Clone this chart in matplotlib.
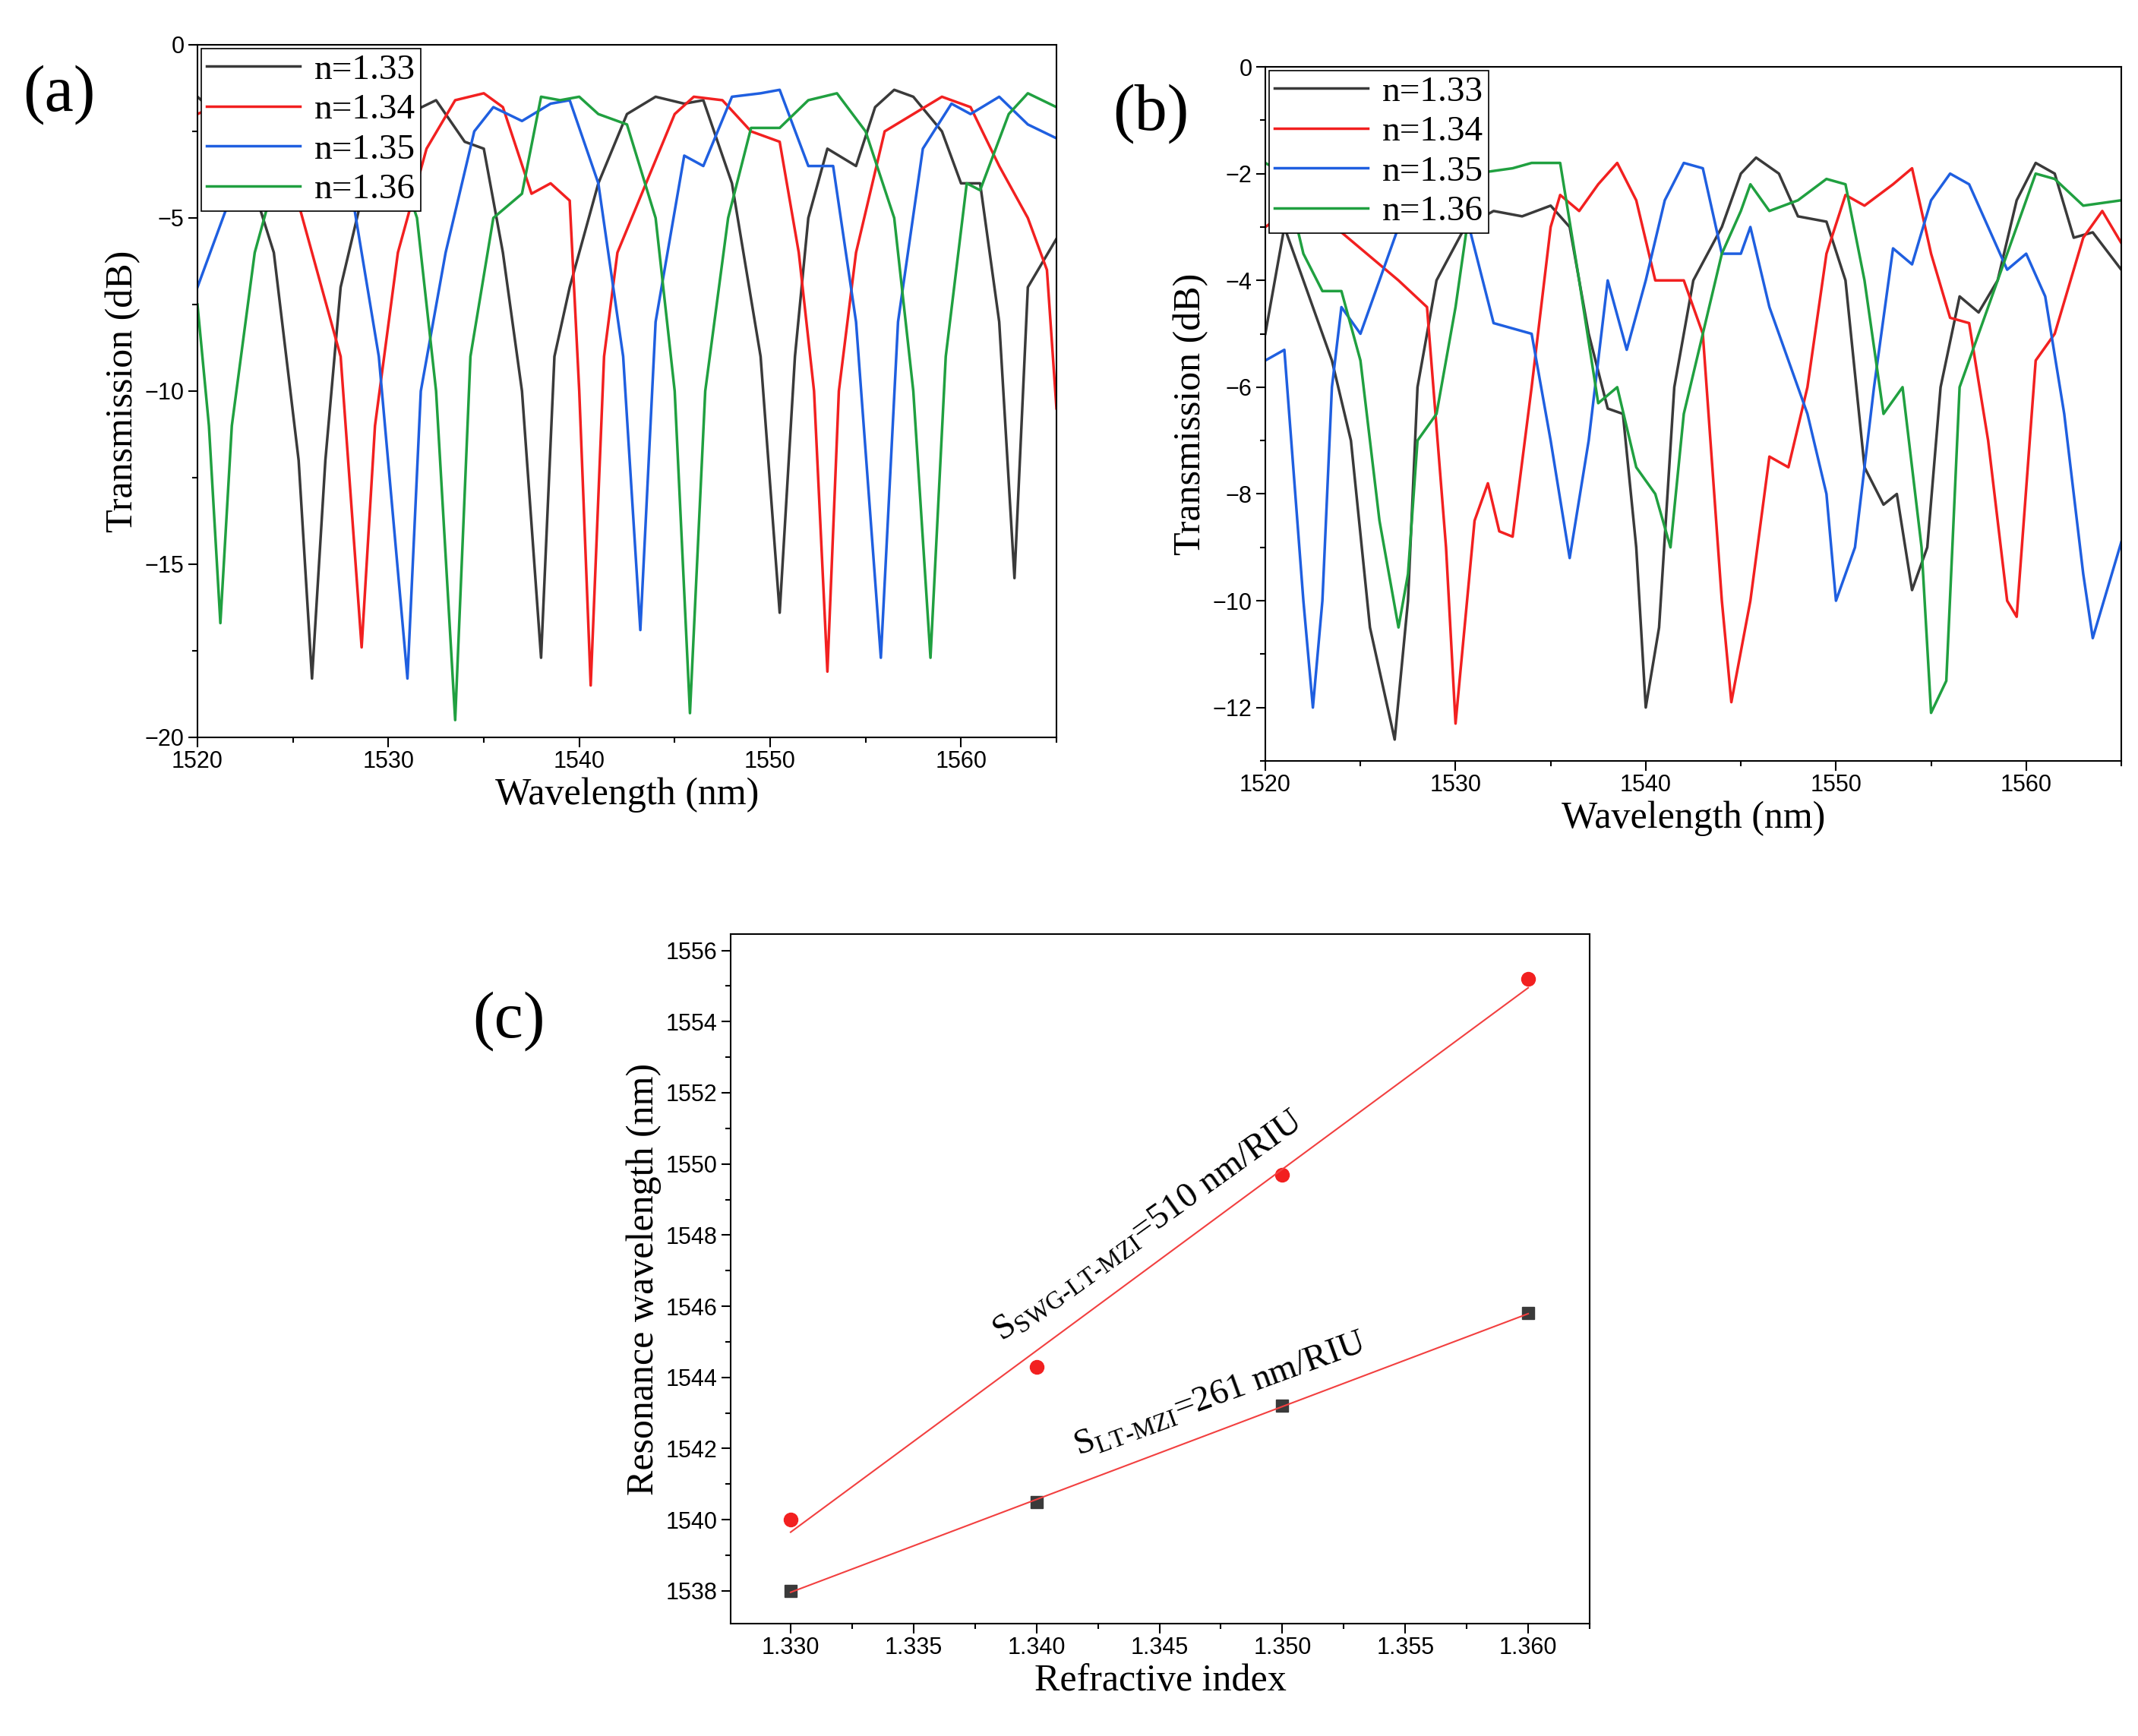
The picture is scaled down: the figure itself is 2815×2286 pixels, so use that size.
import numpy as np
import matplotlib.pyplot as plt
from matplotlib.ticker import MultipleLocator

plt.rcParams['font.family'] = 'Liberation Serif'
plt.rcParams['mathtext.fontset'] = 'custom'
plt.rcParams['mathtext.rm'] = 'Liberation Serif'

labels = ['n=1.33', 'n=1.34', 'n=1.35', 'n=1.36']
colors = ['#3a3a3a', '#f22020', '#1f5fe0', '#20a040']

# panel (a) spectra: (wavelength nm, transmission dB)
a_133 = [(1520,-1.5),(1522,-2.5),(1524,-6),(1525.3,-12),(1526,-18.3),(1526.7,-12),(1527.5,-7),(1529,-3.5),(1531,-2),(1532.5,-1.6),(1534,-2.8),(1535,-3),(1536,-6),(1537,-10),(1538,-17.7),(1538.7,-9),(1539.5,-7),(1541,-4),(1542.5,-2),(1544,-1.5),(1545.5,-1.7),(1546.5,-1.6),(1548,-4),(1549.5,-9),(1550.5,-16.4),(1551.3,-9),(1552,-5),(1553,-3),(1554.5,-3.5),(1555.5,-1.8),(1556.5,-1.3),(1557.5,-1.5),(1559,-2.5),(1560,-4),(1561,-4),(1562,-8),(1562.8,-15.4),(1563.5,-7),(1565,-5.6)]
a_134 = [(1520,-2),(1522,-1.5),(1524,-2),(1526,-6),(1527.5,-9),(1528.6,-17.4),(1529.3,-11),(1530.5,-6),(1532,-3),(1533.5,-1.6),(1535,-1.4),(1536,-1.8),(1537.5,-4.3),(1538.5,-4),(1539.5,-4.5),(1540,-10),(1540.6,-18.5),(1541.3,-9),(1542,-6),(1543.5,-4),(1545,-2),(1546,-1.5),(1547.5,-1.6),(1549,-2.5),(1550.5,-2.8),(1551.5,-6),(1552.3,-10),(1553,-18.1),(1553.6,-10),(1554.5,-6),(1556,-2.5),(1557.5,-2),(1559,-1.5),(1560.5,-1.8),(1562,-3.5),(1563.5,-5),(1564.5,-6.5),(1565,-10.5)]
a_135 = [(1520,-7),(1522,-4),(1526,-2),(1528,-4),(1529.5,-9),(1531,-18.3),(1531.7,-10),(1533,-6),(1534.5,-2.5),(1535.5,-1.8),(1537,-2.2),(1538.5,-1.7),(1539.5,-1.6),(1541,-4),(1542.3,-9),(1543.2,-16.9),(1544,-8),(1545.5,-3.2),(1546.5,-3.5),(1548,-1.5),(1549.5,-1.4),(1550.5,-1.3),(1552,-3.5),(1553.3,-3.5),(1554.5,-8),(1555.8,-17.7),(1556.7,-8),(1558,-3),(1559.5,-1.7),(1560.5,-2),(1562,-1.5),(1563.5,-2.3),(1565,-2.7)]
a_136 = [(1520,-7.5),(1520.6,-11),(1521.2,-16.7),(1521.8,-11),(1523,-6),(1524.5,-3),(1526,-2),(1527.5,-1.8),(1530,-2.5),(1531.5,-5),(1532.5,-10),(1533.5,-19.5),(1534.3,-9),(1535.5,-5),(1537,-4.3),(1538,-1.5),(1539,-1.6),(1540,-1.5),(1541,-2),(1542.5,-2.3),(1544,-5),(1545,-10),(1545.8,-19.3),(1546.6,-10),(1547.8,-5),(1549,-2.4),(1550.5,-2.4),(1552,-1.6),(1553.5,-1.4),(1555,-2.5),(1556.5,-5),(1557.5,-10),(1558.4,-17.7),(1559.2,-9),(1560.3,-4),(1561,-4.2),(1562.5,-2),(1563.5,-1.4),(1565,-1.8)]

# panel (b) spectra
b_133 = [(1520,-5),(1521,-3),(1522.5,-4.5),(1523.5,-5.5),(1524.5,-7),(1525.5,-10.5),(1526.8,-12.6),(1527.5,-10),(1528,-6),(1529,-4),(1530.5,-3),(1532,-2.7),(1533.5,-2.8),(1535,-2.6),(1536,-3),(1537,-5),(1538,-6.4),(1538.8,-6.5),(1539.5,-9),(1540,-12),(1540.7,-10.5),(1541.5,-6),(1542.5,-4),(1544,-3),(1545,-2),(1545.8,-1.7),(1547,-2),(1548,-2.8),(1549.5,-2.9),(1550.5,-4),(1551.5,-7.5),(1552.5,-8.2),(1553.2,-8),(1554,-9.8),(1554.8,-9),(1555.5,-6),(1556.5,-4.3),(1557.5,-4.6),(1558.5,-4),(1559.5,-2.5),(1560.5,-1.8),(1561.5,-2),(1562.5,-3.2),(1563.5,-3.1),(1565,-3.8)]
b_134 = [(1520,-3),(1522,-2.5),(1527,-4),(1528.5,-4.5),(1529.5,-9),(1530,-12.3),(1531,-8.5),(1531.7,-7.8),(1532.3,-8.7),(1533,-8.8),(1534,-6),(1535,-3),(1535.5,-2.4),(1536.5,-2.7),(1537.5,-2.2),(1538.5,-1.8),(1539.5,-2.5),(1540.5,-4),(1542,-4),(1543,-5),(1544,-10),(1544.5,-11.9),(1545.5,-10),(1546.5,-7.3),(1547.5,-7.5),(1548.5,-6),(1549.5,-3.5),(1550.5,-2.4),(1551.5,-2.6),(1553,-2.2),(1554,-1.9),(1555,-3.5),(1556,-4.7),(1557,-4.8),(1558,-7),(1559,-10),(1559.5,-10.3),(1560.5,-5.5),(1561.5,-5),(1563,-3.2),(1564,-2.7),(1565,-3.3)]
b_135 = [(1520,-5.5),(1521,-5.3),(1522,-10),(1522.5,-12),(1523,-10),(1523.5,-6),(1524,-4.5),(1525,-5),(1526,-4),(1527,-3),(1528,-2.5),(1530,-2),(1532,-4.8),(1534,-5),(1535,-7),(1536,-9.2),(1537,-7),(1538,-4),(1539,-5.3),(1540,-4),(1541,-2.5),(1542,-1.8),(1543,-1.9),(1544,-3.5),(1545,-3.5),(1545.5,-3),(1546.5,-4.5),(1547.5,-5.5),(1548.5,-6.5),(1549.5,-8),(1550,-10),(1551,-9),(1552,-6),(1553,-3.4),(1554,-3.7),(1555,-2.5),(1556,-2),(1557,-2.2),(1558,-3),(1559,-3.8),(1560,-3.5),(1561,-4.3),(1562,-6.5),(1563,-9.5),(1563.5,-10.7),(1564.5,-9.5),(1565,-8.9)]
b_136 = [(1520,-1.8),(1521,-2),(1522,-3.5),(1523,-4.2),(1524,-4.2),(1525,-5.5),(1526,-8.5),(1527,-10.5),(1527.5,-9.5),(1528,-7),(1529,-6.5),(1530,-4.5),(1531,-2),(1533,-1.9),(1534,-1.8),(1535.5,-1.8),(1536.5,-4),(1537.5,-6.3),(1538.5,-6),(1539.5,-7.5),(1540.5,-8),(1541.3,-9),(1542,-6.5),(1543,-5),(1544,-3.5),(1545,-2.7),(1545.5,-2.2),(1546.5,-2.7),(1548,-2.5),(1549.5,-2.1),(1550.5,-2.2),(1551.5,-4),(1552.5,-6.5),(1553.5,-6),(1554.5,-9),(1555,-12.1),(1555.8,-11.5),(1556.5,-6),(1557.5,-5),(1559,-3.5),(1560.5,-2),(1561.5,-2.1),(1563,-2.6),(1565,-2.5)]

# panel (c)
n_idx = [1.33, 1.34, 1.35, 1.36]
res_swg = [1540.0, 1544.3, 1549.7, 1555.2]
res_lt = [1538.0, 1540.5, 1543.2, 1545.8]

W, H = 2815, 2286
fig = plt.figure(figsize=(W/100, H/100), dpi=100)

def box(l, t, r, b):
    return [l/W, 1-b/H, (r-l)/W, (b-t)/H]

def style(ax):
    ax.tick_params(which='both', direction='out', labelsize=22, width=1.5)
    ax.tick_params(which='major', length=9)
    ax.tick_params(which='minor', length=5)
    for s in ax.spines.values():
        s.set_linewidth(1.5)
    for lab in ax.get_xticklabels() + ax.get_yticklabels():
        lab.set_fontfamily('Liberation Sans')

def spectra(ax, curves, ylim, ymaj):
    for c, col, lab in zip(curves, colors, labels):
        arr = np.array(c)
        ax.plot(arr[:, 0], arr[:, 1], color=col, lw=2.5, label=lab)
    ax.set_xlim(1520, 1565)
    ax.set_ylim(*ylim)
    ax.xaxis.set_major_locator(MultipleLocator(10))
    ax.xaxis.set_minor_locator(MultipleLocator(5))
    ax.yaxis.set_major_locator(MultipleLocator(ymaj))
    ax.yaxis.set_minor_locator(MultipleLocator(ymaj/2))
    ax.set_xlabel('Wavelength (nm)', fontsize=36)
    ax.set_ylabel('Transmission (dB)', fontsize=36)
    leg = ax.legend(loc='upper left', fontsize=34, frameon=True, fancybox=False,
                    edgecolor='black', framealpha=1, handlelength=2.6, borderaxespad=0.1,
                    labelspacing=0.2, borderpad=0.15, handletextpad=0.4)
    leg.get_frame().set_linewidth(1.2)
    style(ax)

ax1 = fig.add_axes(box(260, 59, 1391, 971))
spectra(ax1, [a_133, a_134, a_135, a_136], (-20, 0), 5)
fig.text(30/W, 1-145/H, '(a)', fontsize=62)

ax2 = fig.add_axes(box(1666, 88, 2793, 1002))
spectra(ax2, [b_133, b_134, b_135, b_136], (-13, 0), 2)
fig.text(1465/W, 1-170/H, '(b)', fontsize=62)

ax3 = fig.add_axes(box(962, 1230, 2093, 2138))
ax3.plot(n_idx, res_lt, 's', color='#3a3a3a', ms=12)
ax3.plot(n_idx, res_swg, 'o', color='#f22020', ms=13)
for ys in (res_swg, res_lt):
    p = np.polyfit(n_idx, ys, 1)
    ax3.plot(n_idx, np.polyval(p, n_idx), color='#f24040', lw=1.5)
ax3.set_xlim(1.32756, 1.3625)
ax3.set_ylim(1537.08, 1556.46)
ax3.xaxis.set_major_locator(MultipleLocator(0.005))
ax3.xaxis.set_minor_locator(MultipleLocator(0.0025))
ax3.yaxis.set_major_locator(MultipleLocator(2))
ax3.yaxis.set_minor_locator(MultipleLocator(1))
ax3.xaxis.set_major_formatter(plt.FormatStrFormatter('%.3f'))
ax3.set_xlabel('Refractive index', fontsize=36, labelpad=4)
ax3.set_ylabel('Resonance wavelength (nm)', fontsize=36)
style(ax3)
ax3.text(1.3386, 1545.0, r'S$_{\rm SWG\text{-}LT\text{-}MZI}$=510 nm/RIU', fontsize=34,
         rotation=35.6, rotation_mode='anchor')
ax3.text(1.3417, 1541.8, r'S$_{\rm LT\text{-}MZI}$=261 nm/RIU', fontsize=34,
         rotation=20, rotation_mode='anchor')
fig.text(622/W, 1-1365/H, '(c)', fontsize=62)

fig.savefig('out.png', dpi=100)
